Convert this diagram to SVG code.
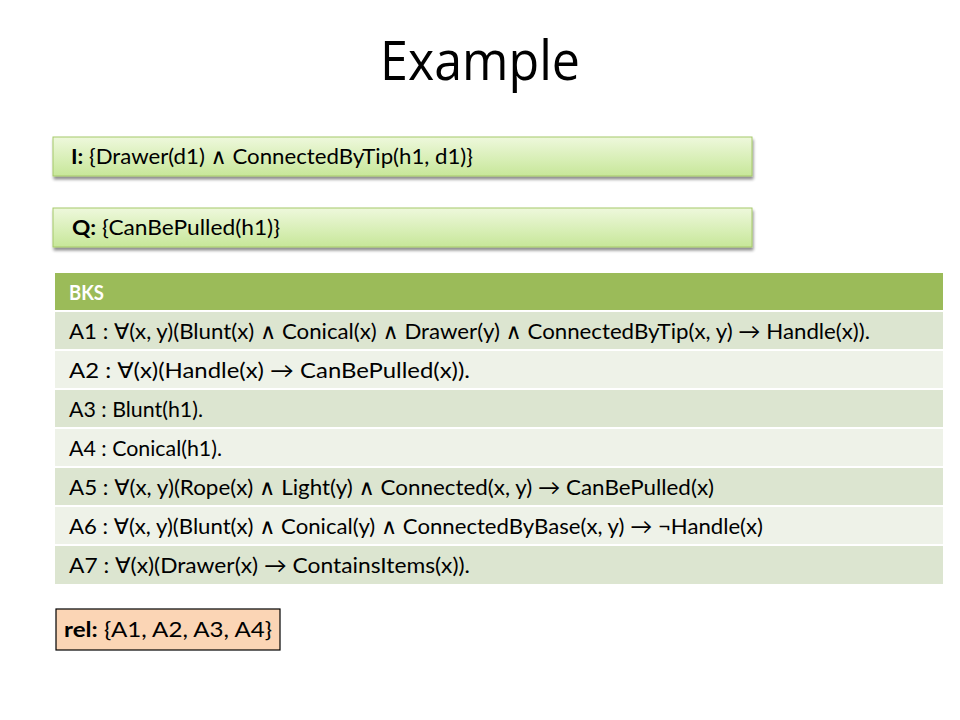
<svg xmlns="http://www.w3.org/2000/svg" width="960" height="720" viewBox="0 0 960 720">
<defs>
<linearGradient id="gb" x1="0" y1="0" x2="0" y2="1">
<stop offset="0" stop-color="#EEF8DC"/>
<stop offset="1" stop-color="#C7E799"/>
</linearGradient>
<filter id="sh" x="-5%" y="-30%" width="110%" height="170%">
<feGaussianBlur in="SourceAlpha" stdDeviation="1.5"/>
<feOffset dx="1" dy="2.5" result="o"/>
<feComponentTransfer><feFuncA type="linear" slope="0.45"/></feComponentTransfer>
<feMerge><feMergeNode/><feMergeNode in="SourceGraphic"/></feMerge>
</filter>
</defs>
<style>
text{font-family:Lato,"Liberation Sans","DejaVu Sans",sans-serif;fill:#000}
.t{font-size:21.5px}
.b{font-weight:bold}
.box{fill:url(#gb);stroke:#A6C96A;stroke-width:1}
.dk{fill:#DCE5D0}
.lt{fill:#EEF2E8}
.sep{stroke:#fff;stroke-width:2}
</style>
<rect width="960" height="720" fill="#fff"/>
<text x="480" y="80" text-anchor="middle" font-size="54" textLength="200" lengthAdjust="spacingAndGlyphs" style="font-family:'Open Sans','Liberation Sans',sans-serif">Example</text>

<g id="node-I">
<rect class="box" x="53" y="137" width="699" height="39" filter="url(#sh)"/>
<text class="t" x="71" y="164" textLength="402" lengthAdjust="spacingAndGlyphs"><tspan class="b">I:</tspan> {Drawer(d1) ∧ ConnectedByTip(h1, d1)}</text>
</g>
<g id="node-Q">
<rect class="box" x="53" y="208" width="699" height="39" filter="url(#sh)"/>
<text class="t" x="72" y="235" textLength="208" lengthAdjust="spacingAndGlyphs"><tspan class="b">Q:</tspan> {CanBePulled(h1)}</text>
</g>

<g id="node-BKS">
<rect x="55" y="273" width="888" height="38" fill="#9BBB59"/>
<rect class="dk" x="55" y="311" width="888" height="39"/>
<rect class="lt" x="55" y="350" width="888" height="39"/>
<rect class="dk" x="55" y="389" width="888" height="39"/>
<rect class="lt" x="55" y="428" width="888" height="39"/>
<rect class="dk" x="55" y="467" width="888" height="39"/>
<rect class="lt" x="55" y="506" width="888" height="39"/>
<rect class="dk" x="55" y="545" width="888" height="39"/>
<g class="sep">
<line x1="55" y1="311" x2="943" y2="311"/>
<line x1="55" y1="350" x2="943" y2="350"/>
<line x1="55" y1="389" x2="943" y2="389"/>
<line x1="55" y1="428" x2="943" y2="428"/>
<line x1="55" y1="467" x2="943" y2="467"/>
<line x1="55" y1="506" x2="943" y2="506"/>
<line x1="55" y1="545" x2="943" y2="545"/>
</g>
<text class="t b" x="69" y="300" style="fill:#fff" textLength="35" lengthAdjust="spacingAndGlyphs">BKS</text>
<text class="t" x="69" y="339" textLength="801" lengthAdjust="spacingAndGlyphs">A1 : ∀(x, y)(Blunt(x) ∧ Conical(x) ∧ Drawer(y) ∧ ConnectedByTip(x, y) → Handle(x)).</text>
<text class="t" x="69" y="378" textLength="401" lengthAdjust="spacingAndGlyphs">A2 : ∀(x)(Handle(x) → CanBePulled(x)).</text>
<text class="t" x="69" y="417" textLength="134" lengthAdjust="spacingAndGlyphs">A3 : Blunt(h1).</text>
<text class="t" x="69" y="456" textLength="153" lengthAdjust="spacingAndGlyphs">A4 : Conical(h1).</text>
<text class="t" x="69" y="495" textLength="645" lengthAdjust="spacingAndGlyphs">A5 : ∀(x, y)(Rope(x) ∧ Light(y) ∧ Connected(x, y) → CanBePulled(x)</text>
<text class="t" x="69" y="534" textLength="694" lengthAdjust="spacingAndGlyphs">A6 : ∀(x, y)(Blunt(x) ∧ Conical(y) ∧ ConnectedByBase(x, y) → ¬Handle(x)</text>
<text class="t" x="69" y="573" textLength="401" lengthAdjust="spacingAndGlyphs">A7 : ∀(x)(Drawer(x) → ContainsItems(x)).</text>
</g>

<g id="node-rel">
<rect x="56" y="609" width="224" height="41" fill="#FBD5B5" stroke="#000" stroke-width="1.2"/>
<text class="t" x="64" y="637" textLength="208" lengthAdjust="spacingAndGlyphs"><tspan class="b">rel:</tspan> {A1, A2, A3, A4}</text>
</g>
<g id="connectors"/>
</svg>
